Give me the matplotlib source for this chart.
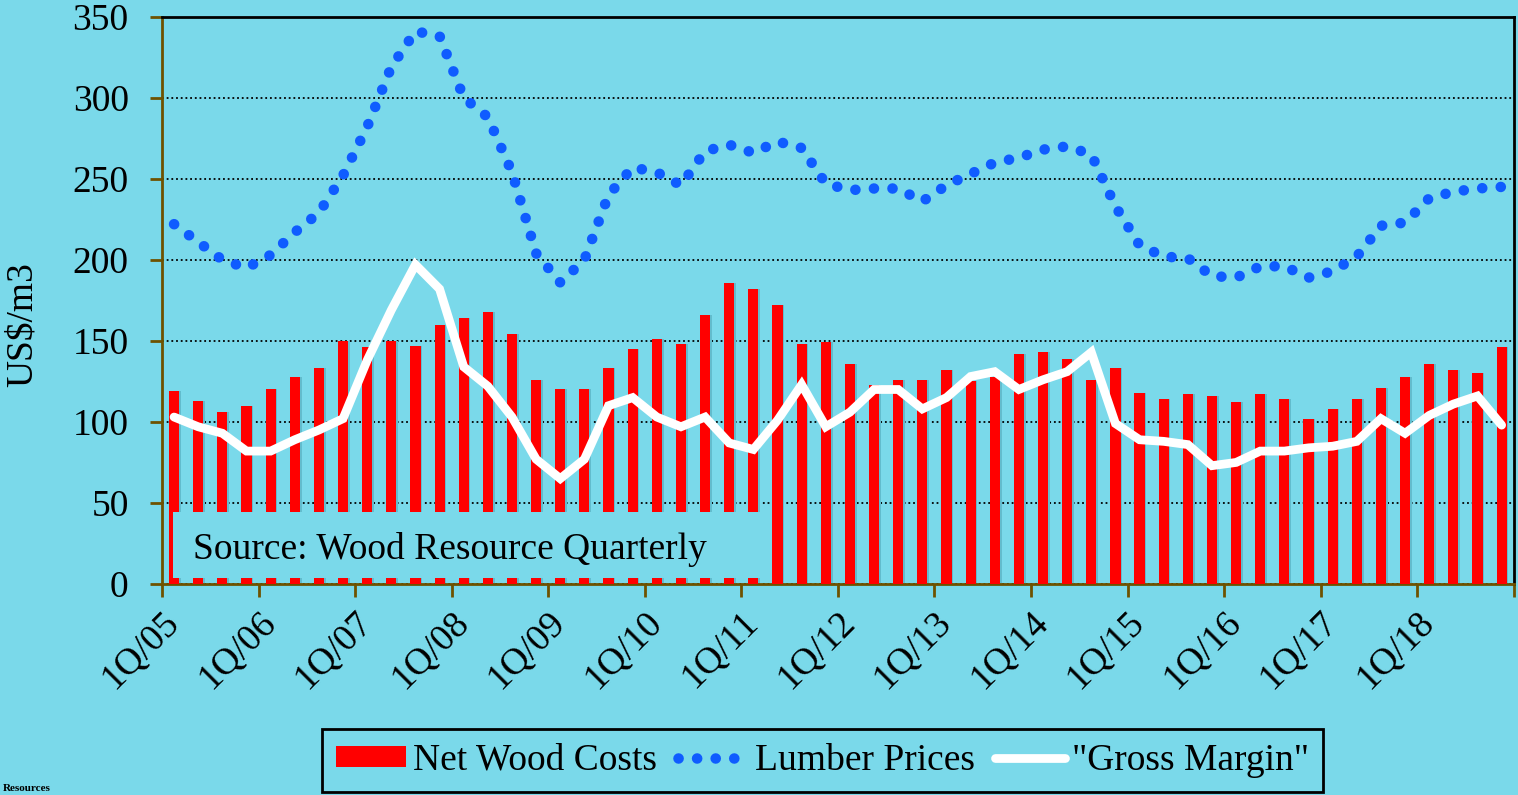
import matplotlib
matplotlib.use('Agg')
import matplotlib.pyplot as plt
import numpy as np
from matplotlib.patches import Patch, Rectangle
from matplotlib.lines import Line2D

# quarterly data 1Q/05 .. 4Q/18
years = ['05', '06', '07', '08', '09', '10', '11', '12', '13', '14', '15', '16', '17', '18']
year_labels = ['1Q/' + y for y in years]

net_wood_costs = [119, 113, 106, 110, 120, 128, 133, 150,
                  146, 150, 147, 160, 164, 168, 154, 126,
                  120, 120, 133, 145, 151, 148, 166, 186,
                  182, 172, 148, 149, 136, 123, 126, 126,
                  132, 125, 128, 142, 143, 139, 126, 133,
                  118, 114, 117, 116, 112, 117, 114, 102,
                  108, 114, 121, 128, 136, 132, 130, 146]

lumber_prices = [222, 211, 200, 195, 203, 217, 229, 252,
                 282, 319, 341, 338, 300, 288, 254, 204,
                 186, 200, 240, 257, 254, 246, 267, 271,
                 266, 273, 269, 247, 243, 244, 244, 236,
                 246, 253, 260, 263, 268, 270, 265, 233,
                 209, 202, 201, 190, 189, 196, 196, 189,
                 193, 202, 221, 223, 238, 242, 244, 245]

gross_margin = [103, 97, 93, 82, 82, 89, 95, 102,
                138, 169, 197, 182, 134, 122, 103, 77,
                65, 77, 110, 115, 103, 97, 103, 87,
                83, 101, 123, 97, 106, 120, 120, 108,
                115, 128, 131, 120, 126, 131, 143, 99,
                89, 88, 86, 73, 75, 82, 82, 84,
                85, 88, 102, 93, 104, 111, 116, 98]

bg = '#7AD9EA'
bar_clr = '#FF0000'
lumber_clr = '#0F5CFF'
axis_brown = '#6E5200'
fs = 27

plt.rcParams['font.family'] = ['Liberation Serif', 'DejaVu Serif']

fig = plt.figure(figsize=(15.18, 7.95), dpi=100, facecolor=bg)
ax = fig.add_axes([162/1518, 1-584/795, (1513.7-162)/1518, (584-16.7)/795])
ax.set_facecolor(bg)

x = np.arange(len(net_wood_costs))

# bars with a faint shadow
ax.bar(x + 0.07, net_wood_costs, width=0.42, color='#62BCCD', zorder=2)
ax.bar(x, net_wood_costs, width=0.42, color=bar_clr, zorder=3)

# source box over the bars
ax.add_patch(Rectangle((-0.06, 4.0), 24.36, 40.5, facecolor=bg, edgecolor='none', zorder=4))
ax.text(0.78, 21.5, 'Source: Wood Resource Quarterly', fontsize=fs, va='center', ha='left', zorder=5)

# lumber prices - blue dotted
ax.plot(x, lumber_prices, color=lumber_clr, lw=7.6, linestyle=(0, (0.01, 1.75)),
        dash_capstyle='round', zorder=6)
# gross margin - white line
ax.plot(x, gross_margin, color='white', lw=6.3, solid_capstyle='round',
        solid_joinstyle='miter', zorder=7)

ax.set_xlim(-0.5, len(x) - 0.5)
ax.set_ylim(0, 350)
ax.set_yticks(np.arange(0, 351, 50))
ax.yaxis.grid(True, color='black', linestyle=(0, (1, 1.6)), lw=1.3, zorder=1)
ax.set_axisbelow(True)

# x ticks: boundaries between years, labels at first quarter of each year
ax.set_xticks(np.arange(-0.5, len(x), 4))
ax.set_xticklabels([])
ax.set_xticks(np.arange(0, len(x), 4), minor=True)
ax.set_xticklabels(year_labels, minor=True, rotation=45, ha='right', va='center',
                   rotation_mode='anchor', fontsize=fs)
ax.tick_params(axis='x', which='major', direction='out', length=9, width=2, color=axis_brown)
ax.tick_params(axis='x', which='minor', length=0, pad=24)
ax.tick_params(axis='y', direction='out', length=9, width=2, color=axis_brown,
               labelsize=fs, pad=15)

for s in ['left', 'bottom']:
    ax.spines[s].set_color(axis_brown)
    ax.spines[s].set_linewidth(2)
for s in ['top', 'right']:
    ax.spines[s].set_color('black')
    ax.spines[s].set_linewidth(2)

ax.set_ylabel('US$/m3', fontsize=fs, va='center')
ax.yaxis.set_label_coords(-0.103, 0.457)

handles = [Patch(facecolor=bar_clr, edgecolor='none'),
           Line2D([], [], color=lumber_clr, lw=7.6, linestyle=(0, (0.01, 1.75)), dash_capstyle='round'),
           Line2D([], [], color='white', lw=6.3, solid_capstyle='round')]
leg = fig.legend(handles, ['Net Wood Costs', 'Lumber Prices', '"Gross Margin"'],
                 loc='lower left', bbox_to_anchor=(322/1518, 3/795), ncol=3, fontsize=fs,
                 frameon=True, fancybox=False, facecolor=bg, edgecolor='black',
                 handlelength=1.85, handleheight=0.5, handletextpad=0.2, columnspacing=0.55,
                 borderpad=0.38, borderaxespad=0)
leg.get_frame().set_linewidth(2)
leg.get_frame().set_alpha(None)

fig.text(0.002, 0.002, 'Resources', fontsize=8, fontweight='bold', va='bottom', ha='left')

fig.savefig('out.png', dpi=100, facecolor=bg)
